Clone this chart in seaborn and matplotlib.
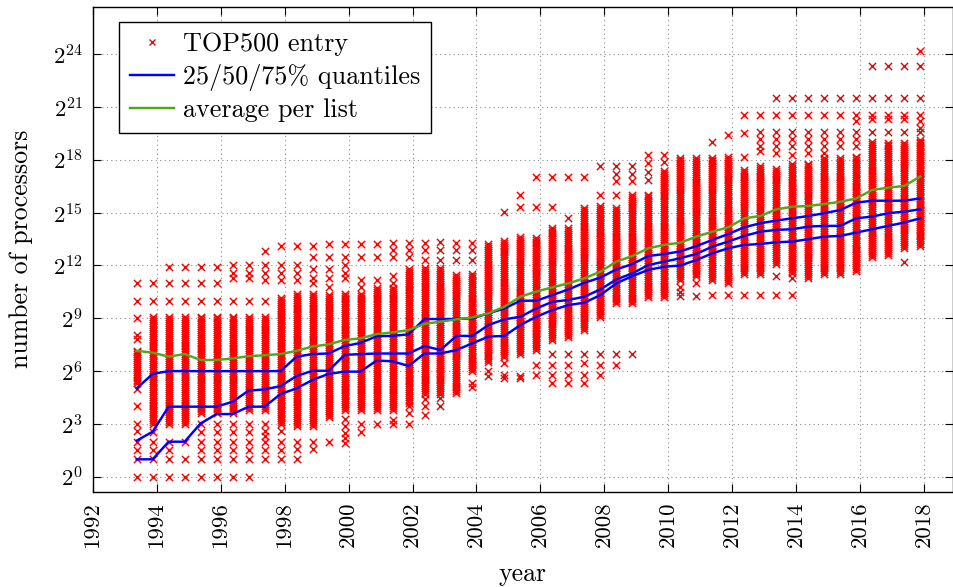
import numpy as np
import pandas as pd
import matplotlib
matplotlib.use("Agg")
import matplotlib.pyplot as plt
from matplotlib.lines import Line2D
import seaborn as sns

# ---------------- data (log2 of processor counts) -------------
list_dates = [1993.375, 1993.875, 1994.375, 1994.875, 1995.375, 1995.875, 1996.375, 1996.875,
              1997.375, 1997.875, 1998.375, 1998.875, 1999.375, 1999.875, 2000.375, 2000.875,
              2001.375, 2001.875, 2002.375, 2002.875, 2003.375, 2003.875, 2004.375, 2004.875,
              2005.375, 2005.875, 2006.375, 2006.875, 2007.375, 2007.875, 2008.375, 2008.875,
              2009.375, 2009.875, 2010.375, 2010.875, 2011.375, 2011.875, 2012.375, 2012.875,
              2013.375, 2013.875, 2014.375, 2014.875, 2015.375, 2015.875, 2016.375, 2016.875,
              2017.375, 2017.875]

# dense column of entries per list: lower / upper exponent
band_lo = [5.3, 3.0, 3.0, 3.0, 3.6, 3.6, 3.6, 3.8, 3.8, 3.0,
           2.9, 2.9, 3.4, 3.8, 3.8, 3.8, 3.8, 4.2, 4.7, 4.7,
           4.74, 6.0, 6.5, 6.8, 7.0, 7.2, 7.77, 7.96, 8.33, 9.09,
           9.85, 9.85, 10.2, 10.2, 11.2, 11.38, 11.2, 11.0, 11.5, 11.5,
           12.1, 11.6, 11.3, 11.5, 11.5, 11.7, 12.5, 12.6, 13.0, 13.1]
band_hi = [7.2, 9.1, 9.1, 9.1, 9.1, 9.1, 9.1, 9.1, 9.1, 10.2,
           10.4, 10.4, 10.4, 10.4, 10.4, 10.8, 10.8, 11.8, 11.9, 11.9,
           11.55, 11.6, 13.3, 13.45, 13.64, 13.64, 14.2, 14.2, 15.34, 15.43,
           15.34, 16.1, 16.1, 17.4, 18.18, 18.18, 18.18, 18.18, 17.5, 17.7,
           17.5, 17.8, 17.8, 18.2, 18.2, 18.2, 19.0, 19.0, 19.0, 19.2]

# isolated entries outside the dense column
extra_entries = [
    [0, 1, 1.5, 2, 2.6, 3, 4, 5, 7.8, 8.05, 9, 10, 11],
    [0, 1, 1.5, 2, 2.56, 10, 11],
    [0, 1, 1.5, 2, 10, 11, 11.9],
    [0, 1, 2, 10, 11, 11.9],
    [0, 1, 1.5, 2, 2.56, 3, 10, 11, 11.9],
    [0, 1, 1.5, 2, 2.56, 3, 10, 11, 11.9],
    [0, 1, 1.5, 2, 2.56, 3, 10, 11.3, 11.6, 12],
    [0, 1, 1.5, 2, 2.56, 3, 10, 11.3, 11.6, 12],
    [1, 1.5, 2, 2.3, 2.6, 3, 10, 11.2, 11.6, 12, 12.8],
    [1, 1.5, 2, 2.6, 11.2, 11.6, 12, 13.1],
    [1, 1.6, 2, 11.2, 11.6, 12, 13.1],
    [1.6, 2, 11, 11.3, 11.8, 12.5, 13.1],
    [2, 10.8, 11.3, 11.8, 12.5, 13.2],
    [1.9, 2.2, 2.5, 2.9, 3.3, 11.3, 11.6, 12, 12.5, 13.2],
    [2.56, 3, 10.8, 11.2, 12.5, 13.2],
    [3, 11.2, 12.5, 13.2],
    [3, 3.2, 11, 11.4, 12.5, 12.9, 13.26],
    [3, 3.6, 4, 12.5, 12.9, 13.26],
    [3.5, 4, 4.4, 12.3, 12.9, 13.26],
    [4, 4.5, 12.3, 12.9, 13.35],
    [12.3, 12.9, 13.26],
    [5.1, 5.3, 12.3, 12.9, 13.26],
    [5.7, 6.0],
    [5.6, 5.78, 6.44, 15.05],
    [5.6, 5.7, 15.34, 15.98],
    [5.78, 6.35, 15.34, 17.05],
    [5.3, 5.78, 6.35, 7.0, 15.34, 17.05],
    [5.3, 5.78, 6.35, 7.0, 14.68, 17.05],
    [5.3, 5.78, 6.44, 7.0, 17.05],
    [5.78, 6.35, 7.0, 15.98, 17.65],
    [6.35, 7.0, 15.98, 16.8, 17.2, 17.65],
    [7.0, 16.8, 17.2, 17.65],
    [16.88, 17.3, 17.8, 18.27],
    [17.9, 18.27],
    [10.25, 10.5, 10.8],
    [10.25, 11.0],
    [10.35, 19.04],
    [10.35, 19.42],
    [10.35, 18.18, 19.5, 20.55],
    [10.35, 18.5, 18.8, 19.2, 19.6, 20.55],
    [10.35, 11.38, 18.4, 18.8, 19.2, 19.6, 20.55, 21.5],
    [10.35, 11.3, 18.3, 18.8, 19.2, 19.6, 20.55, 21.5],
    [18.4, 18.8, 19.2, 19.6, 20.55, 21.5],
    [18.4, 18.8, 19.2, 19.6, 20.55, 21.5],
    [18.8, 19.2, 19.6, 20.55, 21.5],
    [18.8, 19.2, 19.6, 20.2, 20.55, 21.5],
    [19.6, 20.3, 20.55, 21.5, 23.33],
    [19.6, 20.3, 20.55, 21.5, 23.33],
    [12.2, 19.6, 20.3, 20.55, 21.5, 23.33],
    [19.6, 19.8, 20.2, 20.55, 21.5, 23.33, 24.2],
]

q25 = [0.99, 0.99, 1.99, 1.99, 3.03, 3.56, 3.56, 3.98, 3.98, 4.7,
       5.02, 5.5, 5.84, 5.97, 5.97, 6.6, 6.56, 6.29, 7.0, 7.0,
       7.2, 7.58, 7.96, 8.0, 8.62, 9.09, 9.47, 9.75, 9.89, 10.32,
       10.99, 11.4, 11.75, 11.93, 12.0, 12.31, 12.69, 12.98, 13.17, 13.22,
       13.32, 13.36, 13.49, 13.64, 13.68, 13.87, 14.06, 14.25, 14.44, 14.68]
q50 = [2.05, 2.56, 3.98, 3.98, 3.98, 3.98, 4.26, 4.89, 4.96, 5.15,
       5.72, 6.02, 6.02, 6.92, 6.97, 7.0, 7.0, 7.0, 7.42, 7.2,
       8.0, 8.0, 8.62, 8.94, 9.09, 9.56, 9.94, 10.04, 10.23, 10.64,
       11.21, 11.55, 12.03, 12.22, 12.41, 12.66, 13.07, 13.36, 13.68, 13.92,
       14.02, 14.06, 14.21, 14.25, 14.25, 14.68, 14.78, 14.97, 15.06, 15.19]
q75 = [5.02, 5.84, 6.0, 6.0, 6.0, 6.0, 6.0, 6.0, 6.0, 6.0,
       6.82, 6.97, 7.0, 7.42, 7.6, 7.98, 8.0, 8.09, 8.96, 8.96,
       8.96, 9.0, 9.28, 9.56, 10.0, 10.0, 10.32, 10.64, 11.02, 11.31,
       11.78, 12.08, 12.54, 12.65, 12.8, 13.1, 13.45, 13.79, 14.17, 14.4,
       14.55, 14.68, 14.81, 14.97, 15.15, 15.57, 15.68, 15.68, 15.68, 15.81]
avg = [7.15, 7.05, 6.82, 6.97, 6.63, 6.63, 6.72, 6.85, 6.9, 6.97,
       7.15, 7.4, 7.52, 7.77, 7.86, 8.1, 8.2, 8.33, 8.68, 8.81,
       8.94, 9.05, 9.28, 9.66, 10.23, 10.52, 10.76, 10.99, 11.27, 11.65,
       12.22, 12.54, 12.98, 13.17, 13.3, 13.64, 13.92, 14.17, 14.68, 14.81,
       15.19, 15.34, 15.38, 15.49, 15.62, 15.81, 16.29, 16.42, 16.52, 17.05]

year_ticks = [1992, 1994, 1996, 1998, 2000, 2002, 2004, 2006, 2008, 2010, 2012, 2014, 2016, 2018]
exp_ticks = [0, 3, 6, 9, 12, 15, 18, 21, 24]

# ---------------- build tables ----------------
rows = []
for d, lo, hi, ex in zip(list_dates, band_lo, band_hi, extra_entries):
    for e in np.arange(lo, hi + 1e-9, 0.11):
        rows.append((d, 2.0 ** e))
    for e in ex:
        rows.append((d, 2.0 ** e))
entries = pd.DataFrame(rows, columns=["year", "procs"])
stats = pd.DataFrame({"year": list_dates,
                      "q25": np.power(2.0, q25), "q50": np.power(2.0, q50),
                      "q75": np.power(2.0, q75), "avg": np.power(2.0, avg)})

# ---------------- style ----------------
plt.rcParams["mathtext.fontset"] = "cm"
plt.rcParams["font.family"] = ["cmr10", "DejaVu Serif"]
plt.rcParams["axes.formatter.use_mathtext"] = True

W, H = 954, 587
fig = plt.figure(figsize=(W / 100, H / 100), dpi=100)
L, R, T, B = 92.7, 953.0, 6.7, 491.7
ax = fig.add_axes([L / W, 1 - B / H, (R - L) / W, (B - T) / H])

RED = (1.0, 0.0, 0.0)
BLUE = (0.0, 0.0, 1.0)
GREEN = (0.33, 0.65, 0.10)

sns.scatterplot(data=entries, x="year", y="procs", marker="x", color=RED,
                s=27, linewidth=1.05, ax=ax, legend=False, zorder=3)
for col in ["q25", "q50", "q75"]:
    sns.lineplot(data=stats, x="year", y=col, color=BLUE, linewidth=1.75, ax=ax,
                 legend=False, zorder=4)
sns.lineplot(data=stats, x="year", y="avg", color=GREEN, linewidth=1.75, ax=ax,
             legend=False, zorder=4)

ax.set_yscale("log", base=2)
ax.set_xlim(1992, 2018.9)
ax.set_ylim(2 ** -0.85, 2 ** 26.7)

ax.set_xticks(year_ticks)
ax.set_xticklabels([str(y) for y in year_ticks], rotation=90, fontsize=16.4)
ax.set_yticks([2.0 ** e for e in exp_ticks])
ax.set_yticklabels([r"$2^{%d}$" % e for e in exp_ticks], fontsize=16.4)
ax.minorticks_off()
ax.tick_params(direction="in", length=6, width=0.8, top=True, right=True, pad=7)

ax.grid(True, linestyle=(0, (1, 3)), color="0.55", linewidth=0.8, zorder=0)
ax.set_axisbelow(True)
for sp in ax.spines.values():
    sp.set_linewidth(1.0)
    sp.set_color("black")

ax.set_xlabel("year", fontsize=18.6)
ax.set_ylabel("number of processors", fontsize=18.6)
ax.xaxis.set_label_coords(0.5, -0.145)
ax.yaxis.set_label_coords(-0.069, 0.5)

handles = [Line2D([], [], linestyle="none", marker="x", color=RED, markersize=5, markeredgewidth=1.0),
           Line2D([], [], color=BLUE, linewidth=1.75),
           Line2D([], [], color=GREEN, linewidth=1.75)]
labels = ["TOP500 entry", "25/50/75% quantiles", "average per list"]
leg = ax.legend(handles, labels, loc="upper left", bbox_to_anchor=(0.0307, 0.969),
                borderaxespad=0, fontsize=18.8, frameon=True, fancybox=False,
                framealpha=1, edgecolor="black", handlelength=1.7, handletextpad=0.35,
                borderpad=0.4, labelspacing=0.3)
leg.get_frame().set_linewidth(1.0)
leg.set_zorder(10)

fig.savefig("out.png", dpi=100)
